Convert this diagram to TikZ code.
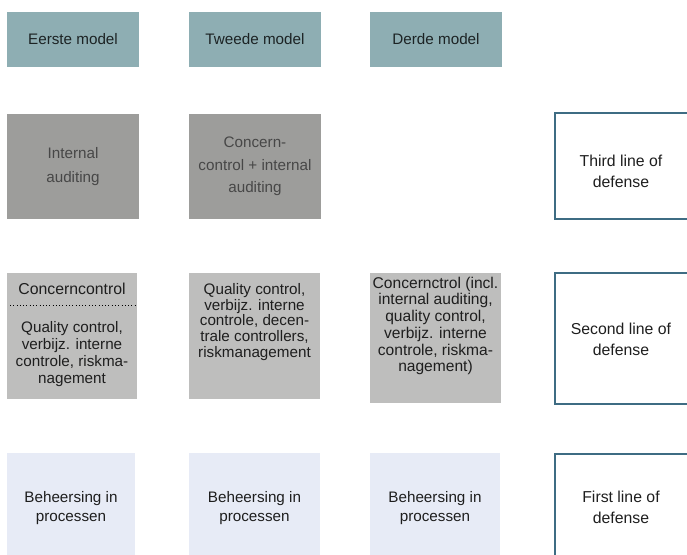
\documentclass[tikz,border=0pt]{standalone}
\usepackage{fontspec}
\setmainfont{Liberation Sans}
\usepackage{tikz}

\definecolor{modelblue}{HTML}{8EAEB3}
\definecolor{auditgrey}{HTML}{9D9D9B}
\definecolor{controlgrey}{HTML}{BEBEBD}
\definecolor{procesblue}{HTML}{E7EBF6}
\definecolor{lineblue}{HTML}{3E6C83}
\definecolor{inkgrey}{HTML}{1E1E1E}

\tikzset{
	hdrtext/.style={text=black!80!modelblue, font=\fontsize{13}{15}\selectfont},
	boxtext/.style={text=inkgrey, align=center, inner sep=0pt},
	defline/.style={draw=lineblue, line width=1.1pt},
}

\begin{document}
\begin{tikzpicture}[x=0.03cm,y=-0.03cm]
					\useasboundingbox (0,0) rectangle (687,555);
					% Model headers
					\foreach \x/\name/\txt in {7/m1/Eerste model,189/m2/Tweede model,370/m3/Derde model}
						\fill[modelblue] (\x,12) rectangle ++(132,55) node[midway,hdrtext] (\name) {\txt};
					% Third line: auditing
					\fill[auditgrey] (7,114) rectangle ++(132,105) node[midway,boxtext,text=black!72,font=\fontsize{13}{20}\selectfont] (ia1) {Internal\\auditing};
					\fill[auditgrey] (189,114) rectangle ++(132,105) node[midway,boxtext,text=black!72,font=\fontsize{13}{19}\selectfont] (ia2) {Concern-\\control + internal\\auditing};
					% Second line: control functions
					\fill[controlgrey] (7,273) rectangle (137,399);
					\fill[controlgrey] (189,273) rectangle (320,399);
					\fill[controlgrey] (370,273) rectangle (501,403);
					\node[boxtext,font=\fontsize{13.5}{15}\selectfont] (cc1) at (72,289) {Concerncontrol};
					\draw[dotted,thick] (10,305) -- (137,305);
					\node[boxtext,font=\fontsize{13}{14.7}\selectfont] (qc1) at (72,354) {Quality control,\\verbijz. interne\\controle, riskma-\\nagement};
					\node[boxtext,font=\fontsize{13}{13.5}\selectfont] (qc2) at (254.5,322) {Quality control,\\verbijz. interne\\controle, decen-\\trale controllers,\\riskmanagement};
					\node[boxtext,font=\fontsize{13.3}{14.3}\selectfont] (qc3) at (435.5,326) {Concernctrol (incl.\\internal auditing,\\quality control,\\verbijz. interne\\controle, riskma-\\nagement)};
					% First line: processes
					\foreach \x/\w/\name in {7/128/bp1,189/131/bp2,370/130/bp3}
						\fill[procesblue] (\x,453) rectangle ++(\w,102) node[midway,boxtext,yshift=-0.12cm,font=\fontsize{13}{16}\selectfont] (\name) {Beheersing in\\processen};
					% Lines of defense
					\draw[defline] (687,113) -- (555,113) -- (555,219) -- (687,219);
					\node[boxtext,font=\fontsize{13.5}{18}\selectfont] (ld3) at (621,171) {Third line of\\defense};
					\draw[defline] (687,273) -- (555,273) -- (555,404) -- (687,404);
					\node[boxtext,font=\fontsize{13.5}{18}\selectfont] (ld2) at (621,339) {Second line of\\defense};
					\draw[defline] (687,454) -- (555,454) -- (555,555);
					\node[boxtext,font=\fontsize{13.5}{18}\selectfont] (ld1) at (621,507) {First line of\\defense};
\end{tikzpicture}
\end{document}
